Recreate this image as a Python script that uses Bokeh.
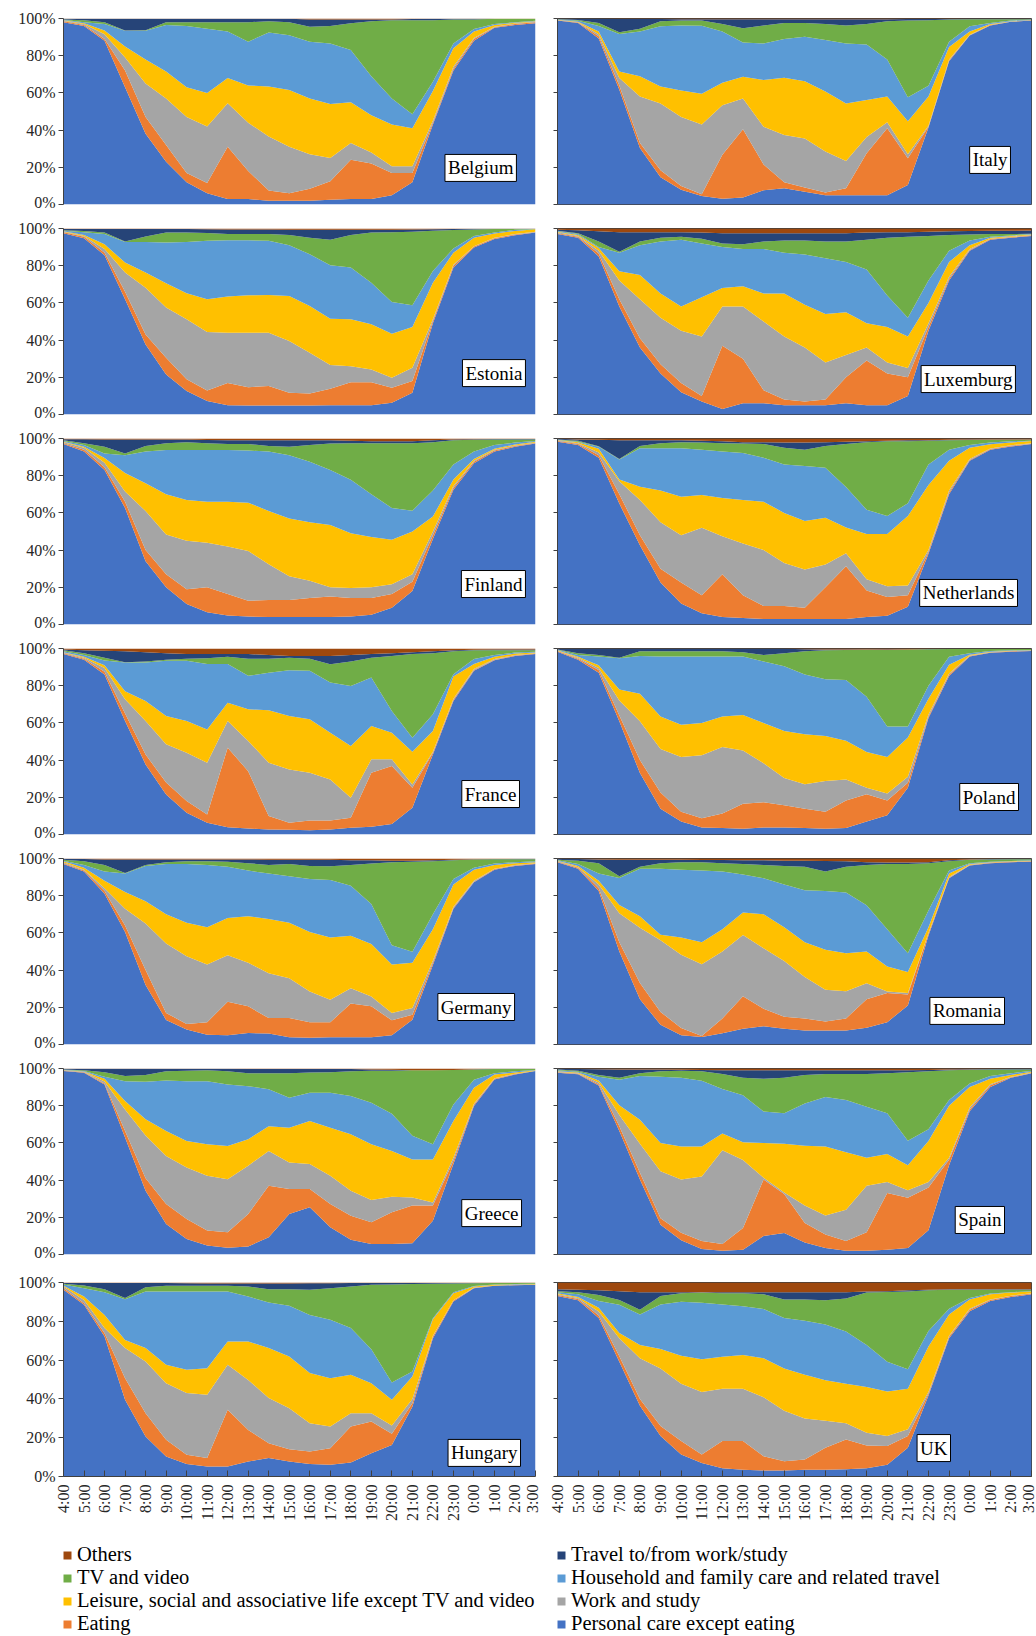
import numpy as np
from math import pi
from bokeh.plotting import figure
from bokeh.models import (ColumnDataSource, Range1d, FixedTicker, PrintfTickFormatter,
                          Label, Legend, LegendItem)
from bokeh.layouts import column, row
from bokeh.embed import file_html
from bokeh.resources import INLINE

HOURS = ["4:00", "5:00", "6:00", "7:00", "8:00", "9:00", "10:00", "11:00", "12:00",
         "13:00", "14:00", "15:00", "16:00", "17:00", "18:00", "19:00", "20:00",
         "21:00", "22:00", "23:00", "0:00", "1:00", "2:00", "3:00"]
LAYERS = ["Personal care except eating", "Eating", "Work and study",
          "Leisure, social and associative life except TV and video",
          "Household and family care and related travel", "TV and video",
          "Travel to/from work/study", "Others"]
KEYS = ["personal", "eating", "work", "leisure", "household", "tv", "travel", "others"]
COLORS = ["#4472C4", "#ED7D31", "#A5A5A5", "#FFC000", "#5B9BD5", "#70AD47", "#264478", "#9E480E"]

# Values: cumulative upper edge (%) of each stacked layer,
# bottom to top; "Others" fills the rest up to 100 %.
belgium = dict(
    personal=[98, 96, 88, 63, 38, 23, 12, 6, 3, 3, 2, 2, 2, 2.5, 3, 3, 5, 12, 43, 72, 88, 95, 96.5, 97.5],
    eating=[98.5, 96.5, 89, 72, 47, 32, 17, 11.5, 31, 18, 7.5, 6, 8.5, 12.5, 24, 22, 17, 17, 44, 73, 89, 95.3, 97, 98],
    work=[98.8, 97, 91.5, 79, 65, 57, 47, 42, 54.5, 44, 36.5, 31, 27, 25, 33, 28, 20.5, 20.5, 45, 74, 89.5, 95.5, 97.3, 98.3],
    leisure=[99, 97.5, 93.5, 85, 78, 71.5, 63, 60, 68, 64, 63.5, 61.5, 57, 54, 55, 48, 43, 41, 61, 84, 93, 96.5, 97.7, 98.5],
    household=[99.3, 98, 97, 93.4, 93.4, 96.5, 96, 94.5, 93, 87.5, 92.5, 91, 87.5, 86.6, 83, 69, 57, 48.5, 66, 86.6, 94.3, 97, 98, 98.8],
    tv=[99.5, 99, 98, 93.6, 93.7, 98, 98, 98, 98, 98, 98.5, 98, 95.5, 96, 97.5, 98.5, 99, 99, 99, 99.5, 99.5, 99.8, 99.8, 99.8],
    travel=[99.8, 99.8, 99.8, 99.8, 99.8, 99.8, 99.8, 99.8, 99.8, 99.8, 99.8, 99.8, 99.5, 99.5, 99.5, 99.5, 99.5, 99.7, 99.8, 99.8, 99.8, 99.9, 99.9, 99.9],
)
italy = dict(
    personal=[98.9, 97.6, 89.3, 61.7, 30.4, 14.7, 7.9, 4.6, 3.1, 3.7, 7.7, 8.7, 6.8, 5, 5, 5, 5, 10.5, 41.4, 77, 90.8, 96.3, 98.2, 98.9],
    eating=[99, 97.8, 90.5, 64, 33, 18.4, 10, 5.5, 26.7, 40.5, 21.5, 12, 9.2, 6.4, 8.7, 27.6, 41, 24.9, 41.8, 77.5, 91, 96.5, 98.3, 99],
    work=[99.2, 98, 91.5, 68, 58, 54.3, 47, 43, 53.4, 57, 41.8, 37.4, 35.5, 28.5, 23.4, 36.3, 44.2, 27, 42.3, 78, 91.3, 96.7, 98.4, 99.1],
    leisure=[99.3, 98.2, 93, 71.5, 69, 63.5, 61.3, 59.5, 65.4, 68.7, 66.9, 68.1, 66.3, 60.8, 54.3, 56.2, 58, 44.8, 58, 84.7, 93, 97, 98.5, 99.2],
    household=[99.5, 98.8, 96, 91.7, 93, 95.8, 96.3, 96.1, 93, 87.1, 86.6, 89, 90.2, 88.4, 86.6, 86, 77.9, 57.6, 63.9, 87.5, 95.8, 97.6, 98.9, 99.3],
    tv=[99.6, 99.2, 97.6, 92.6, 94.5, 98.5, 98.9, 98.9, 97, 94.8, 96.3, 97.6, 97.6, 97, 96.3, 97, 98.5, 98.9, 99.1, 99.4, 99.6, 99.6, 99.6, 99.6],
    travel=[99.8, 99.8, 99.8, 99.7, 99.7, 99.7, 99.6, 99.6, 99.6, 99.6, 99.6, 99.6, 99.6, 99.6, 99.6, 99.6, 99.6, 99.7, 99.7, 99.7, 99.8, 99.8, 99.8, 99.8],
)
estonia = dict(
    personal=[97.5, 94.8, 85.6, 62, 37.7, 21.5, 12.6, 7.2, 5, 4.8, 4.8, 4.8, 4.8, 5, 5, 5, 6.3, 11.7, 49, 79, 89.8, 94.3, 96.4, 97.8],
    eating=[98, 95.5, 87, 66, 43, 30.5, 18.9, 12.9, 17, 14.7, 15.3, 11.7, 11.3, 13.8, 17.4, 17.4, 14.4, 18, 50.3, 80, 90.3, 94.8, 96.8, 98],
    work=[98.3, 96, 89, 76.3, 68.2, 57.5, 51.2, 44.3, 44, 44, 44, 39.5, 33.2, 26.6, 26, 24.2, 19.7, 25.1, 51.2, 80.5, 90.5, 95, 97, 98.2],
    leisure=[98.5, 96.5, 91.5, 81.7, 76.3, 70.6, 65.2, 62, 63.4, 64.1, 64.3, 63.7, 58.3, 51.5, 51.2, 48.5, 43.4, 47, 70.9, 87, 95, 97.3, 98.7, 99.6],
    household=[98.8, 98, 97, 92.8, 92.8, 92.5, 92.8, 93.4, 93.7, 93.7, 93.4, 91, 86.2, 80.3, 79, 70.9, 60.5, 58.7, 77.2, 89.2, 96, 97.8, 99.3, 99.6],
    tv=[99, 98.6, 97.8, 93, 95.7, 97.8, 97.8, 97.6, 97, 97, 97, 96.5, 95, 94, 96.5, 97.8, 98, 98.3, 98.8, 99.2, 99.5, 99.7, 99.7, 99.7],
    travel=[99.7, 99.7, 99.7, 99.7, 99.7, 99.7, 99.7, 99.6, 99.5, 99.5, 99.5, 99.3, 99.3, 99.3, 99.3, 99.3, 99.3, 99.5, 99.6, 99.7, 99.8, 99.8, 99.8, 99.8],
)
luxemburg = dict(
    personal=[97, 95, 85, 58, 36, 22, 12, 7, 3, 6, 6, 5, 5, 5, 6, 5, 5, 10, 45, 72, 88, 94, 95, 96],
    eating=[97.5, 95.5, 86.5, 62, 41, 27, 17, 10, 37, 30, 13, 8, 7, 8, 20, 29, 22, 20, 47, 73, 88.5, 94.3, 95.3, 96.3],
    work=[98, 96, 88, 72, 62, 52, 45, 42, 58, 58, 50, 42, 36, 28, 32, 36, 28, 25, 49, 74, 89, 94.5, 95.5, 96.5],
    leisure=[98.3, 96.5, 89.5, 77, 75, 65, 58, 63, 68, 69, 65, 65, 59, 54, 55, 49, 47, 42, 60, 82, 91, 95, 96, 96.8],
    household=[98.6, 97, 90, 87, 91, 93, 94, 92, 90, 89, 89, 87, 86, 84, 82, 78, 64, 52, 72, 88, 93.5, 95.5, 96.3, 97],
    tv=[98.8, 97.5, 93, 87.5, 93, 95, 95.5, 94.5, 92, 91.5, 93, 93.5, 93.5, 93, 93, 94, 95, 95.5, 96, 96.5, 96.8, 97, 97, 97.2],
    travel=[99.3, 99, 98.5, 98, 98, 98, 98, 97.8, 97.5, 97.5, 97.5, 97.5, 97.5, 97.5, 97.5, 97.8, 98, 98, 98.2, 98.5, 98.7, 98.8, 98.8, 98.9],
)
finland = dict(
    personal=[97, 93, 83, 62.6, 34, 20, 11, 6.6, 4.8, 4.3, 4, 4, 4, 4, 4.3, 5.3, 9, 18, 46, 72.4, 86.7, 93, 95.5, 97.3],
    eating=[97.5, 94, 84.5, 66, 40, 27, 19, 20, 16.4, 12.8, 13.2, 13.2, 14.2, 15, 14.2, 14.2, 16.4, 23, 48, 73.5, 87.5, 93.5, 96, 97.6],
    work=[98, 95, 87, 71.5, 61, 48.4, 45, 44, 42, 39.5, 32.4, 26, 23.5, 20, 19.6, 20, 21.7, 27, 50, 74.5, 88, 94, 96.3, 97.8],
    leisure=[98.3, 95.5, 89.5, 81.5, 76, 70, 67, 66, 66, 65.5, 61, 57, 55, 53.5, 49, 47, 45.5, 50, 58, 78, 89, 94.5, 96.8, 98.2],
    household=[98.7, 96.5, 92, 91, 93, 93.8, 93.8, 93.8, 93.8, 93.5, 93, 91, 87.5, 83, 77.8, 70, 62.6, 61.2, 72, 86, 93, 96.5, 97.8, 98.7],
    tv=[99, 97.5, 95.5, 92, 96, 97.5, 98, 97.5, 97, 97, 96, 95.5, 96.5, 97.3, 97.5, 97.5, 97.5, 97.5, 98, 99, 99.3, 99.5, 99.5, 99.5],
    travel=[99.6, 99.6, 99.5, 99.5, 99.5, 99.5, 99.5, 99.2, 99, 99, 99, 99, 99, 99, 98.8, 98.5, 98.5, 98.5, 99, 99.5, 99.6, 99.7, 99.7, 99.7],
)
netherlands = dict(
    personal=[98.3, 96.5, 89.6, 65, 42.6, 22.6, 11.3, 6, 4, 3.5, 3, 3, 3, 3, 3, 4, 4.7, 9.6, 38, 70, 88, 94, 95.7, 97],
    eating=[98.7, 97, 91, 70, 48, 30, 22.6, 15.7, 27, 15.7, 10, 10, 9, 20, 31.3, 18.3, 14.8, 15.7, 39, 71, 88.5, 94.3, 96.1, 97.2],
    work=[99, 97.5, 92.5, 77, 67, 55, 48, 52, 47.5, 43.5, 40, 33, 29.6, 32.2, 38.3, 24.3, 20.5, 21, 40, 72, 89, 94.6, 96.4, 97.4],
    leisure=[99.2, 98, 94.5, 78, 74, 72, 68.7, 69.6, 68, 67, 66, 60, 55.7, 57.4, 52.2, 48.7, 48.7, 58.3, 75, 88, 95, 96.9, 97.9, 98.6],
    household=[99.3, 98.2, 95.5, 88.7, 94.8, 94.8, 94.8, 93.9, 93, 92.2, 89.6, 86, 85.2, 84.3, 73.9, 61.7, 58.3, 65.2, 86, 93.9, 96.5, 97.9, 98.5, 98.8],
    tv=[99.5, 98.8, 95.8, 89, 96, 97.5, 98, 97.8, 97.5, 97.3, 97, 95, 94, 96, 97, 98, 98.5, 98.5, 98.8, 99, 99.2, 99.3, 99.3, 99.3],
    travel=[99.8, 99.5, 99.3, 99, 99, 99, 99, 98.8, 98.5, 98, 98, 97.8, 97.8, 98, 98.3, 98.5, 98.8, 99, 99, 99.3, 99.4, 99.5, 99.5, 99.5],
)
france = dict(
    personal=[97, 94, 86, 61, 37.7, 21.5, 11.7, 6.3, 3.9, 3.2, 2.7, 2.5, 2.3, 2.7, 3.6, 4.1, 5.7, 14.4, 43, 71.8, 88, 93.7, 96, 97],
    eating=[97.5, 94.5, 87.5, 65, 43, 28, 18, 10.8, 46.7, 34, 9.9, 6.3, 7.5, 7.5, 9, 33.2, 36.8, 25.1, 44, 72.5, 88.5, 94, 96.3, 97.3],
    work=[97.8, 95, 89.5, 72.7, 61, 48.5, 44, 38.6, 61, 50.3, 38.6, 35, 33.2, 29.6, 19.7, 40.4, 40.4, 26.9, 44.5, 73, 89, 94.3, 96.5, 97.5],
    leisure=[98, 95.5, 91, 77, 71.8, 63.7, 61, 56.5, 70.9, 67.3, 66.8, 63.7, 61.9, 54.7, 47.6, 58.3, 54.7, 44.5, 55.6, 85, 91.6, 95.5, 97.3, 97.8],
    household=[98.5, 96.5, 93.5, 92.5, 92.5, 93.4, 93.4, 91.6, 91.6, 85.3, 87, 88.3, 88, 81.7, 79.9, 84.4, 66.4, 52, 64.6, 86.2, 94.3, 96.5, 97.8, 98.3],
    tv=[99, 97.5, 95, 92.6, 93, 94, 94.5, 94.8, 95.5, 94.5, 94.5, 95, 94.5, 91.5, 93, 95, 96, 97, 97.5, 98.5, 99, 99, 99, 99],
    travel=[99.5, 99, 98.8, 98.5, 98, 97.5, 97, 97, 97, 97, 96.5, 96, 96, 96, 96.5, 97, 97.5, 98, 98.5, 99, 99.3, 99.5, 99.5, 99.5],
)
poland = dict(
    personal=[98.3, 93.9, 87, 60.9, 33, 13.9, 7, 3.8, 3.5, 3.1, 3.8, 3.8, 3.5, 3.1, 3.5, 7, 10.4, 25.2, 62.6, 85.2, 95.7, 97.7, 98.3, 98.6],
    eating=[98.6, 94.5, 88.5, 64, 40, 22.6, 12.2, 8.7, 11.3, 16.5, 17.4, 15.7, 13.9, 12.2, 18.3, 21.7, 18.3, 27.8, 63.5, 86, 96, 97.9, 98.5, 98.8],
    work=[98.8, 95, 89.5, 72, 60.9, 46, 41.7, 42.6, 47, 45.2, 38.3, 30.4, 27, 28.7, 29.6, 25.2, 22, 31, 64.5, 86.5, 96.2, 98, 98.6, 98.9],
    leisure=[99, 95.5, 91, 78, 75.7, 63.5, 59, 60, 63.5, 64.3, 60, 55.7, 53.9, 53, 50.4, 44.3, 41.7, 52.2, 73, 91.3, 96.7, 98.3, 98.8, 99],
    household=[99.3, 96.5, 95.7, 94.8, 96, 95.7, 95.7, 95.7, 95.7, 95.7, 93, 90.4, 86, 83.5, 83, 74, 58, 58, 80, 95.5, 97.5, 98.6, 99, 99.2],
    tv=[99.5, 97.5, 96.5, 95, 98.5, 98.5, 98.5, 98.5, 98.5, 98, 96.5, 97.5, 98.5, 99, 99.2, 99.3, 99.2, 99.5, 99.6, 99.7, 99.7, 99.7, 99.7, 99.7],
    travel=[99.8, 99.8, 99.8, 99.8, 99.8, 99.8, 99.8, 99.8, 99.8, 99.8, 99.8, 99.8, 99.6, 99.5, 99.5, 99.5, 99.5, 99.5, 99.7, 99.8, 99.8, 99.8, 99.8, 99.8],
)
germany = dict(
    personal=[97, 93, 81, 60.5, 32, 13.2, 8, 5.3, 5, 6.2, 5.9, 3.9, 3.6, 3.9, 3.9, 3.9, 5, 13.3, 42.7, 73, 87.2, 94, 96, 97],
    eating=[97.5, 93.5, 82.5, 64, 40, 17, 11, 12, 23, 20.5, 14.2, 14.2, 12, 12, 22, 20.5, 13, 16, 44, 73.5, 87.5, 94.3, 96.3, 97.3],
    work=[98, 94, 84, 73, 65, 54.3, 47.5, 43, 48, 44, 38.3, 35.6, 28.5, 24, 30.2, 25.8, 17, 19.6, 45, 74, 88, 94.5, 96.5, 97.5],
    leisure=[98.5, 95, 88, 82, 77, 70, 65.5, 63, 68, 69, 67.5, 65.5, 60.5, 57.5, 58.5, 54, 43, 44, 62, 86, 94, 96.5, 97.5, 98],
    household=[98.8, 96.5, 93, 92, 96, 97, 97, 96.5, 95.5, 93.5, 92, 90.5, 89, 88.4, 85.4, 75.6, 53.4, 49.8, 70, 89, 95, 97.3, 98, 98.5],
    tv=[99.3, 98.5, 96.5, 92.2, 96.5, 98, 98.5, 98.5, 98.3, 97.5, 96.5, 97, 96, 95.8, 96.5, 97.3, 98, 98.3, 98.5, 99, 99.5, 99.6, 99.6, 99.6],
    travel=[99.8, 99.7, 99.5, 99.5, 99.5, 99.5, 99.5, 99.5, 99.5, 99.5, 99.3, 99.3, 99.3, 99.3, 99, 99, 98.8, 98.8, 99, 99.3, 99.6, 99.7, 99.8, 99.8],
)
romania = dict(
    personal=[98, 94.5, 82.5, 50, 24.3, 10.6, 5, 4, 6, 8.5, 9.8, 8.5, 7.5, 7.5, 7.5, 9, 12, 21, 58.6, 89.4, 96.2, 97.5, 98, 98.3],
    eating=[98.3, 95, 84, 55, 33, 17.5, 8.9, 4.6, 14, 26, 19.2, 14.9, 14, 12.3, 14, 24.3, 27.7, 26.9, 59.5, 89.7, 96.4, 97.7, 98.2, 98.5],
    work=[98.6, 95.3, 86, 70.5, 62.8, 56, 48.3, 43.2, 50, 58.9, 51.7, 44.9, 36.3, 29.5, 28.6, 32.9, 28.5, 27.7, 60, 90, 96.6, 97.8, 98.3, 98.6],
    leisure=[98.8, 96, 88, 75, 69, 59, 57.5, 55, 62, 71, 70, 63, 55, 51, 49, 50, 42, 39, 63, 92, 97, 98, 98.5, 98.8],
    household=[99, 97, 92, 89.5, 94.5, 94.5, 94, 93.5, 93, 91.4, 89.4, 86, 82.9, 82.5, 81.7, 74.8, 62, 49, 72, 93.5, 97.5, 98.3, 98.7, 99],
    tv=[99.3, 98.8, 97.5, 90.5, 95.5, 97.5, 98, 98, 97.5, 97, 96.5, 96, 95.5, 93, 95.5, 96.5, 97, 97, 97.5, 98.5, 99.3, 99.5, 99.6, 99.6],
    travel=[99.8, 99.7, 99.5, 99.3, 99.3, 99.3, 99.3, 99.2, 99.2, 99, 99, 98.8, 98.8, 98.6, 98.5, 98, 97.8, 97.8, 98, 99, 99.5, 99.7, 99.8, 99.8],
)
greece = dict(
    personal=[98.6, 97.7, 91.4, 62.9, 34.3, 16.4, 8.4, 4.8, 3.6, 4.3, 9.3, 21.8, 25.4, 14.6, 7.9, 5.7, 5.7, 6.1, 18.2, 48.6, 79.8, 94.1, 96.8, 98.6],
    eating=[98.8, 98, 92, 66.4, 41, 27.1, 19.1, 12.9, 12, 21.8, 37, 35.2, 35.2, 27.1, 20.9, 17.3, 22.7, 26.3, 26.3, 50.4, 80.5, 94.5, 97, 98.7],
    work=[99, 98.2, 93, 78, 64, 53, 46.8, 42.3, 40.5, 47.7, 55.7, 49.5, 48.6, 42.3, 34.3, 29.3, 31, 30.7, 28, 52, 81, 94.7, 97.2, 98.8],
    leisure=[99.2, 98.4, 94.5, 82.5, 72.7, 66.4, 61, 59.3, 58.4, 62, 69, 68.2, 71.8, 68.2, 64.6, 59.3, 55.7, 51.1, 51.1, 71.8, 89.6, 96.8, 97.8, 99],
    household=[99.3, 98.6, 95.5, 93.2, 92.9, 93.6, 93.2, 93.2, 91.4, 90.5, 88.8, 84.3, 87, 87, 85.2, 81.6, 75.7, 63.8, 59.3, 80.7, 94, 97.5, 98.5, 99.2],
    tv=[99.5, 99, 98, 96, 96.5, 98.5, 98.8, 99, 98.5, 97.5, 97.5, 97.5, 97.8, 98, 98.5, 98.8, 98.8, 99, 99, 99.2, 99.5, 99.7, 99.7, 99.7],
    travel=[99.8, 99.8, 99.8, 99.8, 99.8, 99.8, 99.8, 99.8, 99.8, 99.7, 99.7, 99.7, 99.7, 99.7, 99.7, 99.5, 99.3, 99, 99, 99.2, 99.6, 99.8, 99.8, 99.8],
)
spain = dict(
    personal=[97.7, 96.9, 90.8, 66.4, 40.3, 16, 7.7, 3, 2, 2.5, 10, 11.5, 6.5, 3.5, 2, 2, 2.5, 3.5, 13, 48, 77, 90, 95, 97.4],
    eating=[98, 97.2, 91.5, 69, 44, 19.5, 11.7, 7.3, 5.6, 14.3, 40.3, 32.5, 16.9, 10.8, 7.3, 12, 33, 30.5, 36, 51, 78, 91, 95.3, 97.6],
    work=[98.3, 97.5, 92.5, 75, 59.5, 44.7, 40.3, 42, 56, 50.8, 41.2, 33.4, 26.4, 21, 24, 37, 39, 34.5, 39, 52, 79, 91.5, 95.5, 97.8],
    leisure=[98.5, 97.8, 93.5, 80.3, 72.5, 60, 58, 58, 65, 60.3, 60, 59.5, 58.5, 58, 55, 52, 54, 48, 61, 80, 90, 94.5, 96.5, 98.3],
    household=[99, 98.3, 95.5, 94, 96, 95.5, 95, 93.4, 89, 85.6, 76.9, 76, 81.2, 84.7, 83, 79.5, 76, 61.2, 67.3, 83, 92, 96, 97.5, 98.7],
    tv=[99.5, 98.8, 96.5, 95, 97.5, 98.5, 98.8, 98.5, 97, 95, 94.5, 95, 96.5, 97, 97, 97, 97.5, 98, 98.5, 99, 99.3, 99.5, 99.5, 99.5],
    travel=[99.8, 99.7, 99.6, 99.5, 99.5, 99.5, 99.3, 99.2, 99, 99, 99, 99, 99, 99, 99, 99, 99, 99, 99.2, 99.4, 99.6, 99.7, 99.8, 99.8],
)
hungary = dict(
    personal=[96.2, 88.5, 72.2, 39.5, 20.6, 10.3, 6.5, 5.2, 5.2, 7.7, 9.5, 7.7, 6.5, 6, 7.2, 12, 16.3, 36, 71.3, 90.2, 97, 98.3, 98.6, 98.8],
    eating=[97, 89.3, 73.9, 50.7, 32.6, 18.9, 11.2, 9.5, 34.4, 24, 17.2, 14.1, 12.9, 14.6, 25.8, 28.4, 22, 37.8, 72.2, 90.7, 97.2, 98.4, 98.7, 98.9],
    work=[97.9, 91, 76.5, 66.2, 59.3, 48.1, 43, 42.1, 57.6, 49.8, 40.4, 35.2, 27.5, 25.8, 32.6, 32.6, 26.3, 40, 72.5, 90.9, 97.4, 98.5, 98.8, 99],
    leisure=[98.3, 92.8, 83.3, 70.4, 66.2, 57.6, 55, 55.8, 69.6, 69.6, 66.2, 61.9, 53.3, 50.7, 52.4, 48.1, 39.5, 51.5, 81, 94.5, 97.9, 98.8, 99, 99.2],
    household=[99, 97, 95, 91.4, 95.4, 95.4, 95.4, 95.4, 95.4, 92.8, 89.7, 88, 83.3, 80.8, 76.5, 65.6, 48.5, 54.1, 81.6, 95, 98.2, 99, 99.2, 99.3],
    tv=[99.3, 98.5, 96.5, 92, 97.6, 98.3, 98.3, 98.3, 98.3, 98, 96.5, 96.5, 96.3, 97, 98, 98.8, 99, 99.2, 99.4, 99.5, 99.6, 99.7, 99.7, 99.7],
    travel=[99.8, 99.8, 99.8, 99.8, 99.8, 99.7, 99.6, 99.5, 99.5, 99.5, 99.5, 99.5, 99.6, 99.6, 99.7, 99.8, 99.8, 99.8, 99.8, 99.8, 99.8, 99.8, 99.8, 99.8],
)
uk = dict(
    personal=[93, 90.8, 81.7, 59.1, 36.5, 20.9, 11.3, 7, 4.3, 3.5, 3.1, 3.1, 3.5, 3.5, 3.8, 4.3, 6.1, 14.8, 41.7, 71.3, 85.2, 90.4, 92.5, 93.9],
    eating=[93.5, 91.5, 83, 62, 40, 26, 18.3, 11.3, 18.3, 18.3, 10.4, 7.8, 8.7, 14.8, 19.1, 16, 15.7, 20.9, 42.6, 72, 86, 91, 93, 94.3],
    work=[94, 92, 85, 71.3, 60.9, 55.7, 47.8, 43.5, 45.2, 45.2, 40.9, 33.9, 29.9, 28.7, 27.5, 22.6, 20.9, 24.3, 43.5, 72.5, 86.5, 91.3, 93.2, 94.5],
    leisure=[94.5, 92.5, 87, 74, 67.8, 65.7, 62.3, 60.5, 61.7, 62.6, 60.9, 55.7, 52.5, 49.6, 47.8, 46.1, 43.8, 45.2, 67, 83.5, 91.3, 93.9, 94.8, 95.3],
    household=[95, 94, 90.5, 88.5, 83.5, 88.7, 90.1, 89.6, 88.7, 87.8, 86.4, 81.7, 80.3, 78.3, 74.8, 67.8, 59.1, 55.3, 75, 86.5, 92, 94.3, 95, 95.5],
    tv=[95.5, 95, 93.5, 91, 86, 93, 94.4, 94.8, 94.4, 94.4, 93.9, 91.3, 91.3, 90.8, 91.8, 94.8, 95.1, 95.3, 96, 96.2, 96.3, 96.3, 96.3, 96.3],
    travel=[96.5, 96.3, 96, 95.5, 95, 95, 95, 95, 95, 95, 95, 95, 95, 95, 95, 95.3, 95.5, 96, 96.3, 96.5, 96.5, 96.5, 96.5, 96.5],
)

PANELS = [("Belgium", belgium), ("Italy", italy),
          ("Estonia", estonia), ("Luxemburg", luxemburg),
          ("Finland", finland), ("Netherlands", netherlands),
          ("France", france), ("Poland", poland),
          ("Germany", germany), ("Romania", romania),
          ("Greece", greece), ("Spain", spain),
          ("Hungary", hungary), ("UK", uk)]

# placement of the country name boxes (x in hour index, y in %), bottom-right corner of text
LABEL_POS = {"Belgium": (22.07, 12.4), "Italy": (21.98, 16.7), "Estonia": (22.51, 15),
             "Luxemburg": (22.22, 11.8), "Finland": (22.51, 14.5), "Netherlands": (22.32, 9.7),
             "France": (22.22, 14.5), "Poland": (22.37, 12.9), "Germany": (21.98, 12.9),
             "Romania": (21.69, 10.8), "Greece": (22.32, 15), "Spain": (21.69, 11.3),
             "Hungary": (22.27, 5.2), "UK": (19.07, 7.7)}

SERIF = "Liberation Serif"
X = list(range(len(HOURS)))


def layer_shares(d):
    tops = np.array([d[k] for k in KEYS[:-1]], dtype=float)
    tops = np.maximum.accumulate(tops, axis=0)
    edges = np.vstack([np.zeros(len(X)), tops, np.full(len(X), 100.0)])
    diffs = np.diff(edges, axis=0)
    return {k: diffs[i] for i, k in enumerate(KEYS)}


def make_panel(name, d, right, bottom):
    p = figure(frame_width=474 if right else 472,
               frame_height=194 if bottom else 186,
               x_range=Range1d(0, 23), y_range=Range1d(0, 100),
               toolbar_location=None, output_backend="svg",
               x_axis_location="below" if bottom else None,
               min_border_left=17 if right else 63, min_border_right=5,
               min_border_top=22 if bottom else 18,
               min_border_bottom=54 if bottom else 6)
    p.grid.visible = False
    p.background_fill_color = "white"
    p.border_fill_color = "white"
    p.outline_line_color = "#404040" if right else None

    src = ColumnDataSource(dict(x=X, **layer_shares(d)))
    p.varea_stack(stackers=KEYS, x="x", source=src, fill_color=COLORS)

    ya = p.yaxis[0]
    ya.ticker = FixedTicker(ticks=[0, 20, 40, 60, 80, 100])
    ya.formatter = PrintfTickFormatter(format="%d%%")
    ya.axis_line_color = "#404040"
    ya.major_tick_line_color = "#404040"
    ya.major_tick_in = 0
    ya.major_tick_out = 4 if right else 5
    ya.minor_tick_line_color = None
    ya.major_label_text_font = SERIF
    ya.major_label_standoff = 3
    if right:
        # right-hand panels show tick marks only
        ya.major_label_text_font_size = "1px"
        ya.major_label_text_color = None
    else:
        ya.major_label_text_font_size = "16px"
        ya.major_label_text_color = "#262626"

    if bottom:
        xa = p.xaxis[0]
        xa.ticker = FixedTicker(ticks=X)
        xa.major_label_overrides = {i: h for i, h in enumerate(HOURS)}
        xa.major_label_orientation = pi / 2
        xa.major_tick_in = 6
        xa.major_tick_out = 0
        xa.minor_tick_line_color = None
        xa.axis_line_color = "#404040"
        xa.major_tick_line_color = "#404040"
        xa.major_label_text_font = SERIF
        xa.major_label_text_font_size = "16px"
        xa.major_label_text_color = "#262626"
        xa.major_label_standoff = 8

    lx, ly = LABEL_POS[name]
    p.add_layout(Label(x=lx, y=ly, text=name, text_align="right", text_baseline="bottom",
                       text_font=SERIF, text_font_size="19px", text_color="black",
                       background_fill_color="white", border_line_color="black",
                       border_line_width=1, padding=3))
    return p


rows = []
for r in range(7):
    left = make_panel(*PANELS[2 * r], right=False, bottom=(r == 6))
    rgt = make_panel(*PANELS[2 * r + 1], right=True, bottom=(r == 6))
    rows.append(row(left, rgt))

# legend strip
lg = figure(frame_width=1036, frame_height=106, x_range=Range1d(0, 1), y_range=Range1d(0, 1),
            toolbar_location=None, output_backend="svg",
            x_axis_location=None, y_axis_location=None,
            min_border=0)
lg.grid.visible = False
lg.outline_line_color = None
rend = {}
for k, c in zip(KEYS, COLORS):
    rend[k] = lg.varea(x=[0, 1], y1=[0, 0], y2=[0, 0], fill_color=c)

order_left = ["others", "tv", "leisure", "eating"]
order_right = ["travel", "household", "work", "personal"]
for keys, xloc in ((order_left, 62), (order_right, 556)):
    items = [LegendItem(label=LAYERS[KEYS.index(k)], renderers=[rend[k]]) for k in keys]
    leg = Legend(items=items, location=(xloc, 1), orientation="vertical",
                 glyph_width=10, glyph_height=10, label_standoff=5,
                 label_text_font=SERIF, label_text_font_size="20.5px",
                 label_text_color="black", label_height=20, spacing=0,
                 padding=0, margin=0, border_line_color=None,
                 background_fill_alpha=0)
    lg.add_layout(leg)

layout = column(*rows, lg)
open("out.html", "w").write(file_html(layout, INLINE))
